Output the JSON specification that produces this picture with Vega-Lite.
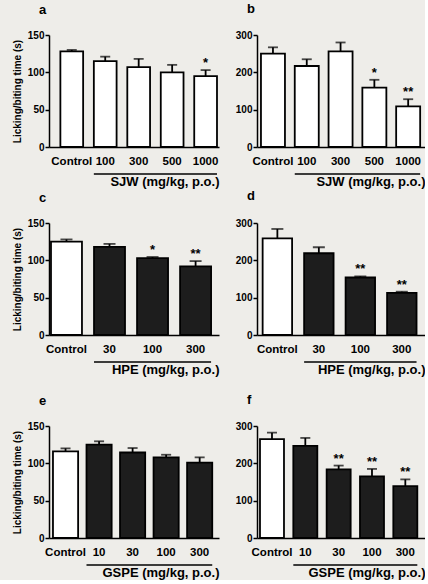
{
  "$schema": "https://vega.github.io/schema/vega-lite/v6.json",
  "background": "#eeede9",
  "padding": {"left": 12, "top": 3, "right": 0, "bottom": 0},
  "config": {
    "font": "Liberation Sans",
    "view": {"stroke": null},
    "axis": {"domainColor": "black", "domainWidth": 1.5, "tickColor": "black", "tickWidth": 1.5, "labelColor": "black", "titleColor": "black", "labelFontWeight": "bold", "titleFontWeight": "bold", "grid": false, "labelFont": "Liberation Sans", "titleFont": "Liberation Sans"},
    "axisX": {"ticks": false, "labelAngle": 0, "labelFontSize": 11.5, "labelPadding": 8, "titleFontSize": 13, "titlePadding": 9, "titleAnchor": "end", "labelOverlap": false},
    "axisY": {"tickSize": 4, "labelFontSize": 10, "labelPadding": 1, "titleFontSize": 10, "titlePadding": 5, "labelOverlap": false},
    "title": {"anchor": "start", "frame": "group", "dx": -10, "offset": 13, "fontSize": 13, "fontWeight": "bold", "font": "Liberation Sans", "color": "black"}
  },
  "datasets": {
    "bars": [
      {"panel": "a", "dose": "Control", "mean": 128, "upper": 130, "sig": ""},
      {"panel": "a", "dose": "100", "mean": 115, "upper": 121, "sig": ""},
      {"panel": "a", "dose": "300", "mean": 107, "upper": 118, "sig": ""},
      {"panel": "a", "dose": "500", "mean": 100, "upper": 110, "sig": ""},
      {"panel": "a", "dose": "1000", "mean": 95, "upper": 103, "sig": "*"},
      {"panel": "b", "dose": "Control", "mean": 250, "upper": 267, "sig": ""},
      {"panel": "b", "dose": "100", "mean": 217, "upper": 235, "sig": ""},
      {"panel": "b", "dose": "300", "mean": 256, "upper": 280, "sig": ""},
      {"panel": "b", "dose": "500", "mean": 159, "upper": 180, "sig": "*"},
      {"panel": "b", "dose": "1000", "mean": 109, "upper": 128, "sig": "**"},
      {"panel": "c", "dose": "Control", "mean": 125, "upper": 128, "sig": ""},
      {"panel": "c", "dose": "30", "mean": 118, "upper": 122, "sig": ""},
      {"panel": "c", "dose": "100", "mean": 103, "upper": 104.5, "sig": "*"},
      {"panel": "c", "dose": "300", "mean": 92, "upper": 99, "sig": "**"},
      {"panel": "d", "dose": "Control", "mean": 259, "upper": 284, "sig": ""},
      {"panel": "d", "dose": "30", "mean": 219, "upper": 235, "sig": ""},
      {"panel": "d", "dose": "100", "mean": 154, "upper": 157, "sig": "**"},
      {"panel": "d", "dose": "300", "mean": 113, "upper": 116, "sig": "**"},
      {"panel": "e", "dose": "Control", "mean": 116, "upper": 120, "sig": ""},
      {"panel": "e", "dose": "10", "mean": 125, "upper": 129.5, "sig": ""},
      {"panel": "e", "dose": "30", "mean": 114.5, "upper": 120.5, "sig": ""},
      {"panel": "e", "dose": "100", "mean": 108, "upper": 111.5, "sig": ""},
      {"panel": "e", "dose": "300", "mean": 101, "upper": 108, "sig": ""},
      {"panel": "f", "dose": "Control", "mean": 265, "upper": 282, "sig": ""},
      {"panel": "f", "dose": "10", "mean": 247, "upper": 268, "sig": ""},
      {"panel": "f", "dose": "30", "mean": 184, "upper": 194, "sig": "**"},
      {"panel": "f", "dose": "100", "mean": 165, "upper": 185, "sig": "**"},
      {"panel": "f", "dose": "300", "mean": 139, "upper": 157, "sig": "**"}
    ],
    "spans": [
      {"panel": "a", "first": "100", "last": "1000"},
      {"panel": "b", "first": "100", "last": "1000"},
      {"panel": "c", "first": "30", "last": "300"},
      {"panel": "d", "first": "30", "last": "300"},
      {"panel": "e", "first": "10", "last": "300"},
      {"panel": "f", "first": "10", "last": "300"}
    ]
  },
  "spacing": 16,
  "vconcat": [
    {
      "spacing": 0,
      "vconcat": [
        {
          "spacing": 16,
          "hconcat": [
            {
              "title": "a", "width": 170, "height": 112,
              "data": {"name": "bars"}, "transform": [{"filter": "datum.panel === 'a'"}],
              "layer": [
                {"mark": {"type": "bar", "stroke": "black", "strokeWidth": 1.8, "fill": "white"},
                 "encoding": {
                   "x": {"field": "dose", "type": "nominal", "scale": {"domain": ["Control", "100", "300", "500", "1000"], "paddingInner": 0.32, "paddingOuter": 0.2, "align": 0.85}, "axis": {"title": "SJW (mg/kg, p.o.)"}},
                   "y": {"field": "mean", "type": "quantitative", "scale": {"domain": [0, 150], "nice": false}, "axis": {"values": [0, 50, 100, 150], "title": "Licking/biting time (s)"}}}},
                {"mark": {"type": "rule", "strokeWidth": 1.8, "color": "black"}, "encoding": {"x": {"field": "dose", "type": "nominal"}, "y": {"field": "mean", "type": "quantitative", "axis": {"values": [0, 50, 100, 150], "title": "Licking/biting time (s)"}}, "y2": {"field": "upper"}}},
                {"mark": {"type": "tick", "orient": "horizontal", "size": 10, "thickness": 1.8, "color": "black"}, "encoding": {"x": {"field": "dose", "type": "nominal"}, "y": {"field": "upper", "type": "quantitative", "axis": {"values": [0, 50, 100, 150], "title": "Licking/biting time (s)"}}}},
                {"mark": {"type": "text", "baseline": "alphabetic", "dy": -3, "fontSize": 13, "fontWeight": "bold", "color": "black"}, "encoding": {"x": {"field": "dose", "type": "nominal"}, "y": {"field": "upper", "type": "quantitative", "axis": {"values": [0, 50, 100, 150], "title": "Licking/biting time (s)"}}, "text": {"field": "sig"}}},
                {"data": {"name": "spans"}, "transform": [{"filter": "datum.panel === 'a'"}], "mark": {"type": "rule", "strokeWidth": 1.5, "color": "black"}, "encoding": {"x": {"field": "first", "type": "nominal", "bandPosition": 0}, "x2": {"field": "last", "bandPosition": 1}, "y": {"datum": -36, "axis": {"values": [0, 50, 100, 150], "title": "Licking/biting time (s)"}}}}
              ]
            },
            {
              "title": "b", "width": 168, "height": 112,
              "data": {"name": "bars"}, "transform": [{"filter": "datum.panel === 'b'"}],
              "layer": [
                {"mark": {"type": "bar", "stroke": "black", "strokeWidth": 1.8, "fill": "white"},
                 "encoding": {
                   "x": {"field": "dose", "type": "nominal", "scale": {"domain": ["Control", "100", "300", "500", "1000"], "paddingInner": 0.29, "paddingOuter": 0.13, "align": 0.45}, "axis": {"title": "SJW (mg/kg, p.o.)"}},
                   "y": {"field": "mean", "type": "quantitative", "scale": {"domain": [0, 300], "nice": false}, "axis": {"values": [0, 100, 200, 300], "title": null}}}},
                {"mark": {"type": "rule", "strokeWidth": 1.8, "color": "black"}, "encoding": {"x": {"field": "dose", "type": "nominal"}, "y": {"field": "mean", "type": "quantitative", "axis": {"values": [0, 100, 200, 300], "title": null}}, "y2": {"field": "upper"}}},
                {"mark": {"type": "tick", "orient": "horizontal", "size": 10, "thickness": 1.8, "color": "black"}, "encoding": {"x": {"field": "dose", "type": "nominal"}, "y": {"field": "upper", "type": "quantitative", "axis": {"values": [0, 100, 200, 300], "title": null}}}},
                {"mark": {"type": "text", "baseline": "alphabetic", "dy": -3, "fontSize": 13, "fontWeight": "bold", "color": "black"}, "encoding": {"x": {"field": "dose", "type": "nominal"}, "y": {"field": "upper", "type": "quantitative", "axis": {"values": [0, 100, 200, 300], "title": null}}, "text": {"field": "sig"}}},
                {"data": {"name": "spans"}, "transform": [{"filter": "datum.panel === 'b'"}], "mark": {"type": "rule", "strokeWidth": 1.5, "color": "black"}, "encoding": {"x": {"field": "first", "type": "nominal", "bandPosition": 0}, "x2": {"field": "last", "bandPosition": 1}, "y": {"datum": -72, "axis": {"values": [0, 100, 200, 300], "title": null}}}}
              ]
            }
          ]
        },
        {
          "spacing": 16,
          "hconcat": [
            {
              "title": "c", "width": 170, "height": 112,
              "data": {"name": "bars"}, "transform": [{"filter": "datum.panel === 'c'"}],
              "layer": [
                {"mark": {"type": "bar", "stroke": "black", "strokeWidth": 1.8},
                 "encoding": {
                   "x": {"field": "dose", "type": "nominal", "scale": {"domain": ["Control", "30", "100", "300"], "paddingInner": 0.28, "paddingOuter": 0.115, "align": 0.2}, "axis": {"title": "HPE (mg/kg, p.o.)"}},
                   "y": {"field": "mean", "type": "quantitative", "scale": {"domain": [0, 150], "nice": false}, "axis": {"values": [0, 50, 100, 150], "title": "Licking/biting time (s)"}},
                   "fill": {"condition": {"test": "datum.dose === 'Control'", "value": "white"}, "value": "#1d1d1d"}}},
                {"mark": {"type": "rule", "strokeWidth": 1.8, "color": "black"}, "encoding": {"x": {"field": "dose", "type": "nominal"}, "y": {"field": "mean", "type": "quantitative", "axis": {"values": [0, 50, 100, 150], "title": "Licking/biting time (s)"}}, "y2": {"field": "upper"}}},
                {"mark": {"type": "tick", "orient": "horizontal", "size": 12, "thickness": 1.8, "color": "black"}, "encoding": {"x": {"field": "dose", "type": "nominal"}, "y": {"field": "upper", "type": "quantitative", "axis": {"values": [0, 50, 100, 150], "title": "Licking/biting time (s)"}}}},
                {"mark": {"type": "text", "baseline": "alphabetic", "dy": -3, "fontSize": 13, "fontWeight": "bold", "color": "black"}, "encoding": {"x": {"field": "dose", "type": "nominal"}, "y": {"field": "upper", "type": "quantitative", "axis": {"values": [0, 50, 100, 150], "title": "Licking/biting time (s)"}}, "text": {"field": "sig"}}},
                {"data": {"name": "spans"}, "transform": [{"filter": "datum.panel === 'c'"}], "mark": {"type": "rule", "strokeWidth": 1.5, "color": "black"}, "encoding": {"x": {"field": "first", "type": "nominal", "bandPosition": 0}, "x2": {"field": "last", "bandPosition": 1}, "y": {"datum": -36, "axis": {"values": [0, 50, 100, 150], "title": "Licking/biting time (s)"}}}}
              ]
            },
            {
              "title": "d", "width": 168, "height": 112,
              "data": {"name": "bars"}, "transform": [{"filter": "datum.panel === 'd'"}],
              "layer": [
                {"mark": {"type": "bar", "stroke": "black", "strokeWidth": 1.8},
                 "encoding": {
                   "x": {"field": "dose", "type": "nominal", "scale": {"domain": ["Control", "30", "100", "300"], "paddingInner": 0.29, "paddingOuter": 0.17, "align": 0.4}, "axis": {"title": "HPE (mg/kg, p.o.)"}},
                   "y": {"field": "mean", "type": "quantitative", "scale": {"domain": [0, 300], "nice": false}, "axis": {"values": [0, 100, 200, 300], "title": null}},
                   "fill": {"condition": {"test": "datum.dose === 'Control'", "value": "white"}, "value": "#1d1d1d"}}},
                {"mark": {"type": "rule", "strokeWidth": 1.8, "color": "black"}, "encoding": {"x": {"field": "dose", "type": "nominal"}, "y": {"field": "mean", "type": "quantitative", "axis": {"values": [0, 100, 200, 300], "title": null}}, "y2": {"field": "upper"}}},
                {"mark": {"type": "tick", "orient": "horizontal", "size": 12, "thickness": 1.8, "color": "black"}, "encoding": {"x": {"field": "dose", "type": "nominal"}, "y": {"field": "upper", "type": "quantitative", "axis": {"values": [0, 100, 200, 300], "title": null}}}},
                {"mark": {"type": "text", "baseline": "alphabetic", "dy": -3, "fontSize": 13, "fontWeight": "bold", "color": "black"}, "encoding": {"x": {"field": "dose", "type": "nominal"}, "y": {"field": "upper", "type": "quantitative", "axis": {"values": [0, 100, 200, 300], "title": null}}, "text": {"field": "sig"}}},
                {"data": {"name": "spans"}, "transform": [{"filter": "datum.panel === 'd'"}], "mark": {"type": "rule", "strokeWidth": 1.5, "color": "black"}, "encoding": {"x": {"field": "first", "type": "nominal", "bandPosition": 0}, "x2": {"field": "last", "bandPosition": 1}, "y": {"datum": -72, "axis": {"values": [0, 100, 200, 300], "title": null}}}}
              ]
            }
          ]
        }
      ]
    },
    {
      "spacing": 16,
      "hconcat": [
        {
          "title": "e", "width": 170, "height": 112,
          "data": {"name": "bars"}, "transform": [{"filter": "datum.panel === 'e'"}],
          "layer": [
            {"mark": {"type": "bar", "stroke": "black", "strokeWidth": 1.8},
             "encoding": {
               "x": {"field": "dose", "type": "nominal", "scale": {"domain": ["Control", "10", "30", "100", "300"], "paddingInner": 0.25, "paddingOuter": 0.16, "align": 0.37}, "axis": {"title": "GSPE (mg/kg, p.o.)"}},
               "y": {"field": "mean", "type": "quantitative", "scale": {"domain": [0, 150], "nice": false}, "axis": {"values": [0, 50, 100, 150], "title": "Licking/biting time (s)"}},
               "fill": {"condition": {"test": "datum.dose === 'Control'", "value": "white"}, "value": "#1d1d1d"}}},
            {"mark": {"type": "rule", "strokeWidth": 1.8, "color": "black"}, "encoding": {"x": {"field": "dose", "type": "nominal"}, "y": {"field": "mean", "type": "quantitative", "axis": {"values": [0, 50, 100, 150], "title": "Licking/biting time (s)"}}, "y2": {"field": "upper"}}},
            {"mark": {"type": "tick", "orient": "horizontal", "size": 10, "thickness": 1.8, "color": "black"}, "encoding": {"x": {"field": "dose", "type": "nominal"}, "y": {"field": "upper", "type": "quantitative", "axis": {"values": [0, 50, 100, 150], "title": "Licking/biting time (s)"}}}},
            {"mark": {"type": "text", "baseline": "alphabetic", "dy": -3, "fontSize": 13, "fontWeight": "bold", "color": "black"}, "encoding": {"x": {"field": "dose", "type": "nominal"}, "y": {"field": "upper", "type": "quantitative", "axis": {"values": [0, 50, 100, 150], "title": "Licking/biting time (s)"}}, "text": {"field": "sig"}}},
            {"data": {"name": "spans"}, "transform": [{"filter": "datum.panel === 'e'"}], "mark": {"type": "rule", "strokeWidth": 1.5, "color": "black"}, "encoding": {"x": {"field": "first", "type": "nominal", "bandPosition": 0}, "x2": {"field": "last", "bandPosition": 1}, "y": {"datum": -36, "axis": {"values": [0, 50, 100, 150], "title": "Licking/biting time (s)"}}}}
          ]
        },
        {
          "title": "f", "width": 168, "height": 112,
          "data": {"name": "bars"}, "transform": [{"filter": "datum.panel === 'f'"}],
          "layer": [
            {"mark": {"type": "bar", "stroke": "black", "strokeWidth": 1.8},
             "encoding": {
               "x": {"field": "dose", "type": "nominal", "scale": {"domain": ["Control", "10", "30", "100", "300"], "paddingInner": 0.28, "paddingOuter": 0.16, "align": 0.28}, "axis": {"title": "GSPE (mg/kg, p.o.)"}},
               "y": {"field": "mean", "type": "quantitative", "scale": {"domain": [0, 300], "nice": false}, "axis": {"values": [0, 100, 200, 300], "title": null}},
               "fill": {"condition": {"test": "datum.dose === 'Control'", "value": "white"}, "value": "#1d1d1d"}}},
            {"mark": {"type": "rule", "strokeWidth": 1.8, "color": "black"}, "encoding": {"x": {"field": "dose", "type": "nominal"}, "y": {"field": "mean", "type": "quantitative", "axis": {"values": [0, 100, 200, 300], "title": null}}, "y2": {"field": "upper"}}},
            {"mark": {"type": "tick", "orient": "horizontal", "size": 10, "thickness": 1.8, "color": "black"}, "encoding": {"x": {"field": "dose", "type": "nominal"}, "y": {"field": "upper", "type": "quantitative", "axis": {"values": [0, 100, 200, 300], "title": null}}}},
            {"mark": {"type": "text", "baseline": "alphabetic", "dy": -3, "fontSize": 13, "fontWeight": "bold", "color": "black"}, "encoding": {"x": {"field": "dose", "type": "nominal"}, "y": {"field": "upper", "type": "quantitative", "axis": {"values": [0, 100, 200, 300], "title": null}}, "text": {"field": "sig"}}},
            {"data": {"name": "spans"}, "transform": [{"filter": "datum.panel === 'f'"}], "mark": {"type": "rule", "strokeWidth": 1.5, "color": "black"}, "encoding": {"x": {"field": "first", "type": "nominal", "bandPosition": 0}, "x2": {"field": "last", "bandPosition": 1}, "y": {"datum": -72, "axis": {"values": [0, 100, 200, 300], "title": null}}}}
          ]
        }
      ]
    }
  ]
}
